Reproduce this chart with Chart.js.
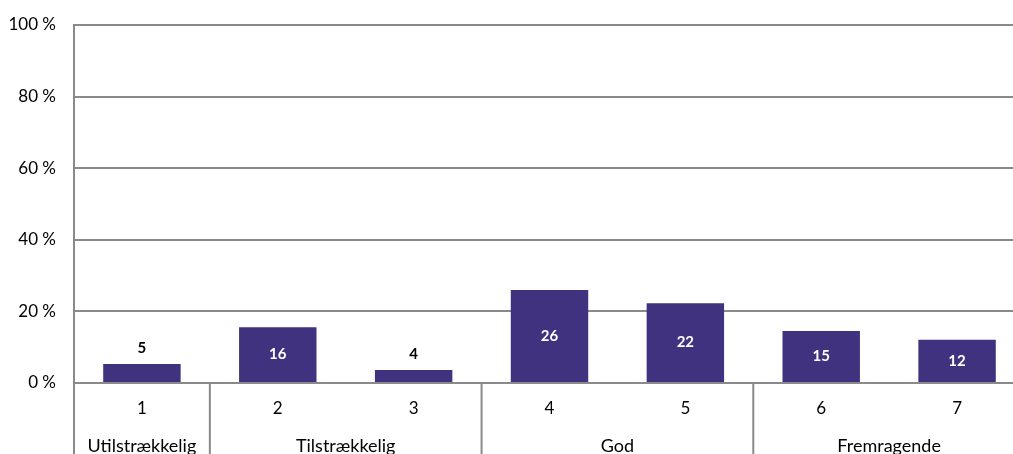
<!DOCTYPE html>
<html>
<head>
<meta charset="utf-8">
<script src="https://cdn.jsdelivr.net/npm/chart.js@4"></script>
<style>
  html, body { margin: 0; padding: 0; background: #fff; overflow: hidden; }
  #wrap { width: 1030px; height: 454px; }
</style>
</head>
<body>
<div id="wrap"><canvas id="chart"></canvas></div>
<script>
// values (percent), labels shown rounded
const categories = ["1", "2", "3", "4", "5", "6", "7"];
const values = [5.3, 15.6, 3.6, 26.0, 22.3, 14.5, 12.1];
const groupLabels = ["Utilstrækkelig", "Tilstrækkelig", "God", "Fremragende"];
const groupSizes = [1, 2, 2, 2];
const yTicks = [0, 20, 40, 60, 80, 100];

const BAR_COLOR = "#41327f";
const LINE_COLOR = "#8a8a8a";
const FONT = "Lato, 'Open Sans', sans-serif";

// value labels: white inside tall bars, black above short ones
const barLabels = {
  id: "barLabels",
  afterDatasetsDraw(chart) {
    const { ctx } = chart;
    const meta = chart.getDatasetMeta(0);
    ctx.save();
    ctx.font = "bold 15px " + FONT;
    ctx.textAlign = "center";
    ctx.textBaseline = "middle";
    meta.data.forEach((bar, i) => {
      const text = String(Math.round(values[i]));
      const h = bar.base - bar.y;
      if (h > 30) {
        ctx.fillStyle = "#fff";
        ctx.fillText(text, bar.x, bar.y + h / 2);
      } else {
        ctx.fillStyle = "#000";
        ctx.fillText(text, bar.x, bar.y - 16);
      }
    });
    ctx.restore();
  },
};

// second row of category axis: group names and separators
const groupAxis = {
  id: "groupAxis",
  afterDraw(chart) {
    const { ctx, chartArea } = chart;
    const x = chart.scales.x;
    const half = (x.getPixelForValue(1) - x.getPixelForValue(0)) / 2;
    const bottom = chart.height;
    ctx.save();
    ctx.strokeStyle = LINE_COLOR;
    ctx.lineWidth = 2;
    ctx.beginPath();
    ctx.moveTo(chartArea.left, chartArea.bottom);
    ctx.lineTo(chartArea.left, bottom);
    ctx.stroke();
    ctx.font = "18px " + FONT;
    ctx.fillStyle = "#000";
    ctx.textAlign = "center";
    ctx.textBaseline = "middle";
    let start = 0;
    groupSizes.forEach((size, g) => {
      const left = x.getPixelForValue(start) - half;
      const right = x.getPixelForValue(start + size - 1) + half;
      if (g > 0) {
        ctx.beginPath();
        ctx.moveTo(left, chartArea.bottom);
        ctx.lineTo(left, bottom);
        ctx.stroke();
      }
      ctx.fillText(groupLabels[g], (left + right) / 2, 446);
      start += size;
    });
    ctx.restore();
  },
};

new Chart(document.getElementById("chart"), {
  type: "bar",
  data: {
    labels: categories,
    datasets: [
      {
        data: values,
        backgroundColor: BAR_COLOR,
        categoryPercentage: 1,
        barPercentage: 0.57,
      },
    ],
  },
  options: {
    responsive: true,
    maintainAspectRatio: false,
    animation: false,
    layout: { padding: { top: 25, right: 5, left: 0, bottom: 0 } },
    plugins: { legend: { display: false }, tooltip: { enabled: false } },
    scales: {
      x: {
        grid: { display: false, drawTicks: false },
        border: { display: false },
        ticks: { color: "#000", font: { family: FONT, size: 17 }, padding: 15 },
        afterFit(scale) { scale.height = 71; },
      },
      y: {
        min: 0,
        max: 100,
        afterBuildTicks(scale) { scale.ticks = yTicks.map((v) => ({ value: v })); },
        grid: { color: LINE_COLOR, lineWidth: 2, drawTicks: false },
        border: { color: LINE_COLOR, width: 2 },
        ticks: {
          color: "#000",
          font: { family: FONT, size: 17, lineHeight: 1 },
          padding: 18,
          callback: (v) => v + " %",
        },
        afterFit(scale) {
          scale.width = 74;
          scale.paddingTop = 0;
          scale.paddingBottom = 0;
        },
      },
    },
  },
  plugins: [barLabels, groupAxis],
});
</script>
</body>
</html>
